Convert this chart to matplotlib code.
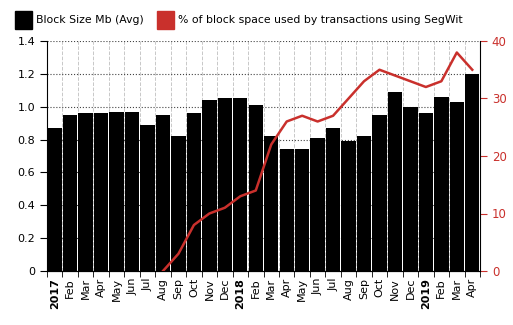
import numpy as np
import matplotlib
matplotlib.use("Agg")
import matplotlib.pyplot as plt
from matplotlib.patches import Rectangle

plt.rcParams['font.family'] = ['DejaVu Sans']

# month labels, Jan 2017 .. Apr 2019
months = ['2017', 'Feb', 'Mar', 'Apr', 'May', 'Jun', 'Jul', 'Aug', 'Sep', 'Oct', 'Nov', 'Dec',
          '2018', 'Feb', 'Mar', 'Apr', 'May', 'Jun', 'Jul', 'Aug', 'Sep', 'Oct', 'Nov', 'Dec',
          '2019', 'Feb', 'Mar', 'Apr']
block_size = [0.87, 0.95, 0.96, 0.96, 0.97, 0.97, 0.89, 0.95, 0.82, 0.96, 1.04, 1.05,
              1.05, 1.01, 0.82, 0.74, 0.74, 0.81, 0.87, 0.79, 0.82, 0.95, 1.09, 1.00,
              0.96, 1.06, 1.03, 1.20]
# segwit share starts in Aug 2017 (index 7)
segwit_start = 7
segwit_pct = [0, 3, 8, 10, 11, 13, 14, 22, 26, 27, 26, 27, 30, 33, 35, 34, 33, 32, 33, 38, 35]

red = '#c9302c'

fig = plt.figure(figsize=(5.13, 3.25), dpi=100)
ax = fig.add_axes([47/513, 54/325, 433/513, 230/325])

x = np.arange(len(months))
ax.bar(x, block_size, width=0.93, color='black', zorder=3)
ax.set_xlim(-0.5, len(months) - 0.5)
ax.set_ylim(0, 1.4)
ax.set_yticks(np.arange(0, 1.41, 0.2))
ax.set_yticklabels(['0', '0.2', '0.4', '0.6', '0.8', '1.0', '1.2', '1.4'], fontsize=8)

ax.set_xticks(x)
ax.set_xticklabels(months, rotation=90, fontsize=8)
for lbl in ax.get_xticklabels():
    if lbl.get_text().isdigit():
        lbl.set_fontweight('bold')
ax.tick_params(axis='x', which='major', length=0, pad=5)
ax.set_xticks(np.arange(-0.5, len(months), 1), minor=True)
ax.tick_params(axis='x', which='minor', length=4, color='black')
ax.tick_params(axis='y', length=5)

ax.grid(axis='y', linestyle=':', color='#444444', linewidth=0.8, zorder=0)
ax.grid(axis='x', which='minor', linestyle='--', color='#c8c8c8', linewidth=0.7, zorder=0)
ax.grid(axis='x', which='major', visible=False)
ax.spines['top'].set_visible(False)
ax.spines['right'].set_visible(False)

ax2 = ax.twinx()
ax2.plot(x[segwit_start:], segwit_pct, color=red, linewidth=1.8, zorder=4)
ax2.set_ylim(0, 40)
ax2.set_yticks([0, 10, 20, 30, 40])
ax2.tick_params(axis='y', colors=red, labelsize=8.5, length=5)
ax2.spines['top'].set_visible(False)
ax2.spines['right'].set_color('black')
ax2.spines['left'].set_visible(False)

# legend
fig.patches.append(Rectangle((15/513, 1 - 29/325), 17/513, 18/325, transform=fig.transFigure,
                             color='black', figure=fig))
fig.text(36/513, 1 - 20/325, 'Block Size Mb (Avg)', fontsize=7.8, va='center')
fig.patches.append(Rectangle((157/513, 1 - 29/325), 17/513, 18/325, transform=fig.transFigure,
                             color=red, figure=fig))
fig.text(178/513, 1 - 20/325, '% of block space used by transactions using SegWit', fontsize=7.8, va='center')

fig.savefig('out.png', dpi=100)
